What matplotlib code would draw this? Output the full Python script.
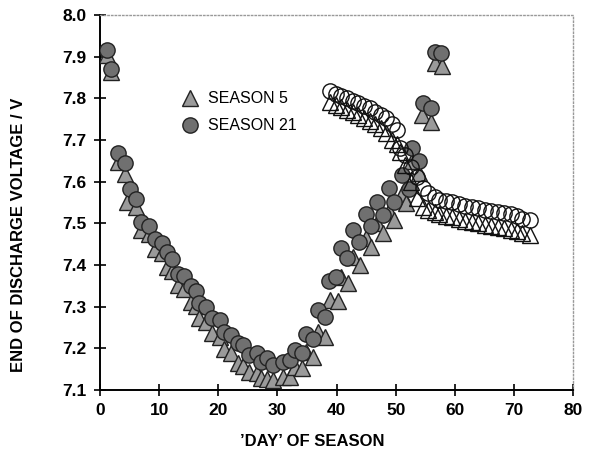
import matplotlib
matplotlib.use("Agg")
import matplotlib.pyplot as plt

plt.rcParams["font.family"] = ["Liberation Sans", "DejaVu Sans"]

# season 5 (grey triangles), first part of season
s5_day = [1.1, 1.9, 3.0, 4.3, 4.6, 6.1, 6.9, 8.2, 9.3, 10.4, 11.3, 12.2, 13.1, 14.2,
          15.4, 16.2, 16.8, 18.0, 19.0, 20.3, 21.0, 22.2, 23.3, 24.2, 25.2, 26.5,
          27.2, 28.3, 29.3, 30.9, 32.1, 32.9, 34.2, 34.9, 36.0, 36.9, 38.0, 38.9,
          40.3, 40.8, 41.9, 42.8, 43.9, 44.9, 45.9, 46.8, 47.9, 48.9, 49.8, 51.0,
          51.8, 52.8, 53.9, 54.5, 56.0, 56.6, 57.8]
s5_v = [7.905, 7.864, 7.648, 7.618, 7.552, 7.540, 7.484, 7.474, 7.438, 7.428, 7.396,
        7.385, 7.352, 7.342, 7.312, 7.302, 7.272, 7.262, 7.236, 7.226, 7.198, 7.188,
        7.164, 7.158, 7.144, 7.140, 7.128, 7.126, 7.124, 7.132, 7.132, 7.156, 7.152,
        7.190, 7.180, 7.240, 7.228, 7.316, 7.314, 7.370, 7.356, 7.420, 7.400, 7.465,
        7.444, 7.500, 7.476, 7.530, 7.508, 7.570, 7.548, 7.650, 7.620, 7.760, 7.744,
        7.884, 7.878]

# season 21 (dark circles)
s21_day = [1.1, 1.9, 3.0, 4.3, 5.0, 6.1, 6.9, 8.2, 9.3, 10.4, 11.3, 12.2, 13.1, 14.2,
           15.4, 16.2, 16.8, 18.0, 19.0, 20.3, 21.0, 22.2, 23.3, 24.2, 25.2, 26.5,
           27.2, 28.3, 29.3, 30.9, 32.1, 32.9, 34.2, 34.9, 36.0, 36.9, 38.0, 38.7,
           39.9, 40.8, 41.8, 42.8, 43.8, 44.9, 45.8, 46.8, 47.9, 48.9, 49.8, 51.0,
           52.2, 52.8, 53.9, 54.6, 55.9, 56.6, 57.7]
s21_v = [7.915, 7.870, 7.668, 7.644, 7.582, 7.558, 7.504, 7.494, 7.462, 7.452, 7.432,
         7.414, 7.378, 7.374, 7.350, 7.338, 7.308, 7.300, 7.272, 7.268, 7.240, 7.232,
         7.212, 7.208, 7.184, 7.188, 7.168, 7.176, 7.160, 7.168, 7.172, 7.196, 7.188,
         7.234, 7.222, 7.292, 7.276, 7.362, 7.370, 7.440, 7.416, 7.484, 7.456, 7.522,
         7.494, 7.550, 7.520, 7.584, 7.550, 7.616, 7.582, 7.680, 7.650, 7.788, 7.776,
         7.912, 7.908]

# open markers, second run from day 39
open_day = [38.9, 39.9, 40.8, 41.7, 42.8, 43.6, 44.6, 45.6, 46.5, 47.5, 48.3, 49.3,
            50.2, 50.7, 51.5, 52.6, 53.6, 54.6, 55.5, 56.6, 57.4, 58.5, 59.6, 60.7,
            61.8, 62.9, 64.0, 65.1, 66.2, 67.3, 68.4, 69.5, 70.6, 71.3, 72.7]
open_s21_v = [7.818, 7.810, 7.806, 7.800, 7.794, 7.788, 7.782, 7.776, 7.768, 7.760,
              7.752, 7.738, 7.724, 7.680, 7.664, 7.636, 7.610, 7.584, 7.572, 7.564,
              7.556, 7.554, 7.550, 7.546, 7.542, 7.540, 7.536, 7.532, 7.530, 7.527,
              7.525, 7.522, 7.517, 7.510, 7.508]
open_s5_v = [7.790, 7.783, 7.778, 7.772, 7.766, 7.760, 7.752, 7.746, 7.738, 7.728,
             7.716, 7.700, 7.690, 7.670, 7.640, 7.600, 7.560, 7.540, 7.533, 7.528,
             7.522, 7.518, 7.514, 7.510, 7.506, 7.503, 7.500, 7.496, 7.494, 7.491,
             7.488, 7.485, 7.481, 7.477, 7.472]

fig = plt.figure(figsize=(5.92, 4.55), dpi=100)
ax = fig.add_axes([0.169, 0.143, 0.799, 0.824])

ax.plot(s5_day, s5_v, "^", ms=11, mfc="#9a9a9a", mec="#222222", mew=1.0, zorder=3,
        label="SEASON 5")
ax.plot(s21_day, s21_v, "o", ms=11, mfc="#707070", mec="#222222", mew=1.0, zorder=4,
        label="SEASON 21")
ax.plot(open_day, open_s5_v, "^", ms=11, mfc="none", mec="#111111", mew=1.0, zorder=5)
ax.plot(open_day, open_s21_v, "o", ms=11, mfc="none", mec="#111111", mew=1.0, zorder=6)

ax.set_xlim(0, 80)
ax.set_ylim(7.1, 8.0)
ax.set_xticks(range(0, 81, 10))
ax.set_yticks([7.1 + 0.1 * i for i in range(10)])
ax.set_yticklabels([f"{7.1 + 0.1 * i:.1f}" for i in range(10)])
ax.tick_params(direction="inout", length=9, width=1.2, labelsize=12.5, pad=5)
for lbl in ax.get_xticklabels() + ax.get_yticklabels():
    lbl.set_fontweight("bold")

for side in ("left", "bottom"):
    ax.spines[side].set_linewidth(1.4)
for side in ("top", "right"):
    ax.spines[side].set_color("#999999")
    ax.spines[side].set_linestyle(":")
    ax.spines[side].set_linewidth(1.0)

ax.set_xlabel("’DAY’ OF SEASON", fontsize=12, fontweight="bold")
ax.set_ylabel("END OF DISCHARGE VOLTAGE / V", fontsize=12, fontweight="bold")
ax.xaxis.set_label_coords(0.448, -0.118)
ax.yaxis.set_label_coords(-0.157, 0.415)

ax.legend(loc="upper left", bbox_to_anchor=(0.14, 0.835), frameon=False, fontsize=11.5,
          handletextpad=0.5, labelspacing=0.75, handlelength=1.2)

fig.savefig("out.png", dpi=100)
